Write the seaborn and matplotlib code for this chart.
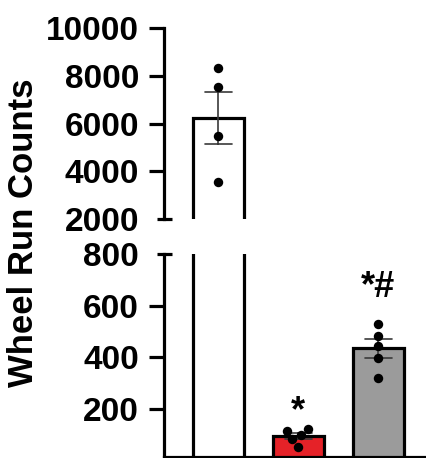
import matplotlib
matplotlib.use("Agg")
import matplotlib.pyplot as plt
import seaborn as sns
import pandas as pd

# ---- data ----
groups = ["Group 1", "Group 2", "Group 3"]
group1_counts = [8330, 7540, 5490, 3530]
group2_counts = [115, 100, 125, 83, 54]
group3_counts = [529, 483, 445, 396, 321]
bar_colors = ["#FFFFFF", "#E52228", "#9B9B9B"]
annotations = ["", "*", "*#"]
top_ticks = [2000, 4000, 6000, 8000, 10000]
bottom_ticks = [200, 400, 600, 800]

df = pd.DataFrame({
    "group": [groups[0]] * len(group1_counts) + [groups[1]] * len(group2_counts) + [groups[2]] * len(group3_counts),
    "counts": group1_counts + group2_counts + group3_counts,
})
palette = dict(zip(groups, bar_colors))

sns.set_theme(style="ticks")
plt.rcParams["font.family"] = ["Liberation Sans", "DejaVu Sans"]
plt.rcParams["font.weight"] = "bold"
plt.rcParams["text.color"] = "black"
plt.rcParams["axes.labelcolor"] = "black"
plt.rcParams["xtick.color"] = "black"
plt.rcParams["ytick.color"] = "black"

fig = plt.figure(figsize=(4.27, 4.58), dpi=100)
ax_top = fig.add_axes([0.384, 0.5218, 0.616, 0.4170])
ax_bot = fig.add_axes([0.384, 0.0022, 0.616, 0.4432])

lw = 2.3
for ax, ylim, ticks in ((ax_top, (2000, 10000), top_ticks), (ax_bot, (15, 800), bottom_ticks)):
    ax.set_ylim(*ylim)
    ax.set_xlim(-0.68, 2.61)
    sns.barplot(data=df, x="group", y="counts", hue="group", order=groups, hue_order=groups,
                palette=palette, saturation=1, errorbar="se", capsize=0.34, width=0.64,
                edgecolor="black", linewidth=lw,
                err_kws={"color": "#3a3a3a", "linewidth": 1.2}, legend=False, ax=ax)
    sns.swarmplot(data=df, x="group", y="counts", order=groups, color="black",
                  size=6.8, ax=ax)
    ax.set_ylim(*ylim)
    ax.set_xlim(-0.68, 2.61)
    ax.set_yticks(ticks)
    ax.set_yticklabels([str(t) for t in ticks])
    ax.tick_params(axis="y", length=11, width=lw, labelsize=24, pad=7,
                   colors="black", labelcolor="black")
    ax.tick_params(axis="x", length=0, labelbottom=False)
    ax.set_xlabel("")
    ax.set_ylabel("")
    for side in ("top", "right"):
        ax.spines[side].set_visible(False)
    for side in ("left", "bottom"):
        ax.spines[side].set_linewidth(lw)
        ax.spines[side].set_color("black")
    for lab in ax.get_yticklabels():
        lab.set_fontweight("bold")

ax_top.spines["bottom"].set_visible(False)

# axis break caps
ax_top.yaxis.get_major_ticks()[0].tick1line.set_visible(False)
ax_bot.yaxis.get_major_ticks()[-1].tick1line.set_visible(False)
ax_top.plot([-0.028, 0.03], [0, 0], transform=ax_top.transAxes, color="black", lw=lw,
            clip_on=False, solid_capstyle="butt")
ax_bot.plot([-0.028, 0.03], [1, 1], transform=ax_bot.transAxes, color="black", lw=lw,
            clip_on=False, solid_capstyle="butt")

# significance marks
ax_bot.text(1, 190, annotations[1], ha="center", va="center", fontsize=26,
            fontweight="bold", color="black")
ax_bot.text(2, 670, annotations[2], ha="center", va="center", fontsize=26,
            fontweight="bold", color="black")

fig.text(0.056, 0.491, "Wheel Run Counts", rotation=90, fontsize=25, fontweight="bold",
         ha="center", va="center", color="black")

fig.savefig("out.png", dpi=100)
